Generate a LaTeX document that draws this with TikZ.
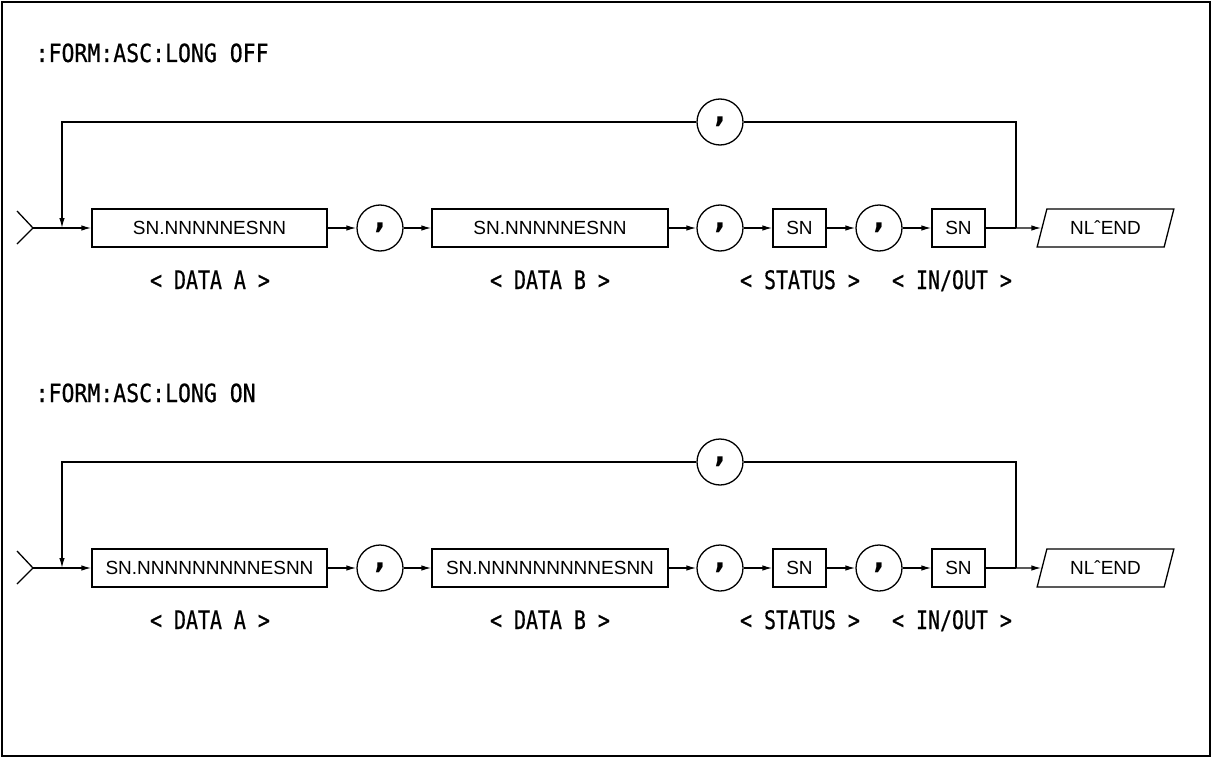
\documentclass[tikz,border=0pt]{standalone}
\usepackage{fontspec}
\setmainfont{Liberation Sans}
\newfontfamily\titlefont[FakeStretch=0.86,FakeBold=0.6]{DejaVu Sans Mono}
\newfontfamily\lblfont[FakeStretch=0.78,FakeBold=0.6]{DejaVu Sans Mono}
\newfontfamily\commafont{DejaVu Sans}
\usetikzlibrary{arrows.meta,positioning,shapes.geometric}

\begin{document}
\begin{tikzpicture}[x=1pt,y=-1pt,line width=1.3pt,
  blk/.style={rectangle,draw,minimum height=38pt,inner sep=0pt,font=\fontsize{19}{20}\selectfont},
  sep/.style={circle,draw,minimum size=46pt,inner sep=0pt,font=\commafont\bfseries\fontsize{30}{30}\selectfont},
  term/.style={trapezium,trapezium left angle=67,trapezium right angle=113,trapezium stretches=true,
    draw,minimum width=137pt,minimum height=38pt,inner sep=0pt,font=\fontsize{19}{20}\selectfont},
  lbl/.style={anchor=base,inner sep=0pt,font=\lblfont\fontsize{25.5}{27}\selectfont},
  ttl/.style={anchor=base west,inner sep=0pt,font=\titlefont\fontsize{25}{27}\selectfont},
  arr/.style={-{Latex[length=10pt,width=5.5pt]}}
]
  \useasboundingbox (0,0) rectangle (1212,757);
  \draw[line width=2.2pt] (2,2) rectangle (1210,756);

  % LONG OFF
  \node[ttl] (h0) at (35,62) {:FORM:ASC:LONG OFF};
  \coordinate (in0) at (33,228);
  \coordinate (m0) at (62,228);
  \coordinate (j0) at (1016,228);
  \draw (17,211) -- (in0) -- (17,244);
  \node[blk,minimum width=235pt] (a0) at (209.5,228) {SN.NNNNNESNN};
  \node[sep] (c0) at (380,228) {,};
  \node[blk,minimum width=236pt] (b0) at (550,228) {SN.NNNNNESNN};
  \node[sep] (d0) at (720,228) {,};
  \node[blk,minimum width=53pt] (s0) at (799.5,228) {SN};
  \node[sep] (e0) at (879,228) {,};
  \node[blk,minimum width=53pt] (o0) at (958.5,228) {SN};
  \node[term] (nl0) at (1105.5,228) {NL\symbol{"02C6}END};
  \node[sep] (t0) at (720,122) {,};
  \draw[arr] (in0) -- (a0);
  \draw[arr] (a0) -- (c0);
  \draw[arr] (c0) -- (b0);
  \draw[arr] (b0) -- (d0);
  \draw[arr] (d0) -- (s0);
  \draw[arr] (s0) -- (e0);
  \draw[arr] (e0) -- (o0);
  \draw (o0) -- (j0);
  \draw[arr] (j0) -- (nl0);
  \draw (j0) |- (t0);
  \draw[arr] (t0) -| (m0);
  \node[lbl] (la0) at (210,289) {< DATA A >};
  \node[lbl] (lb0) at (550,289) {< DATA B >};
  \node[lbl] (ls0) at (800,289) {< STATUS >};
  \node[lbl] (lo0) at (952,289) {< IN/OUT >};

  % LONG ON
  \node[ttl] (h1) at (35,402) {:FORM:ASC:LONG ON};
  \coordinate (in1) at (33,568);
  \coordinate (m1) at (62,568);
  \coordinate (j1) at (1016,568);
  \draw (17,551) -- (in1) -- (17,584);
  \node[blk,minimum width=235pt] (a1) at (209.5,568) {SN.NNNNNNNNNESNN};
  \node[sep] (c1) at (380,568) {,};
  \node[blk,minimum width=236pt] (b1) at (550,568) {SN.NNNNNNNNNESNN};
  \node[sep] (d1) at (720,568) {,};
  \node[blk,minimum width=53pt] (s1) at (799.5,568) {SN};
  \node[sep] (e1) at (879,568) {,};
  \node[blk,minimum width=53pt] (o1) at (958.5,568) {SN};
  \node[term] (nl1) at (1105.5,568) {NL\symbol{"02C6}END};
  \node[sep] (t1) at (720,462) {,};
  \draw[arr] (in1) -- (a1);
  \draw[arr] (a1) -- (c1);
  \draw[arr] (c1) -- (b1);
  \draw[arr] (b1) -- (d1);
  \draw[arr] (d1) -- (s1);
  \draw[arr] (s1) -- (e1);
  \draw[arr] (e1) -- (o1);
  \draw (o1) -- (j1);
  \draw[arr] (j1) -- (nl1);
  \draw (j1) |- (t1);
  \draw[arr] (t1) -| (m1);
  \node[lbl] (la1) at (210,629) {< DATA A >};
  \node[lbl] (lb1) at (550,629) {< DATA B >};
  \node[lbl] (ls1) at (800,629) {< STATUS >};
  \node[lbl] (lo1) at (952,629) {< IN/OUT >};
\end{tikzpicture}
\end{document}
